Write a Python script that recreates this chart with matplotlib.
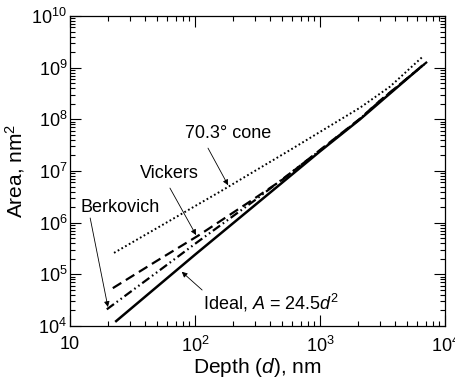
import numpy as np
import matplotlib
matplotlib.use('Agg')
import matplotlib.pyplot as plt

plt.rcParams['font.family'] = ['Liberation Sans', 'DejaVu Sans']
plt.rcParams['mathtext.fontset'] = 'custom'
plt.rcParams['mathtext.rm'] = 'Liberation Sans'
plt.rcParams['mathtext.it'] = 'Liberation Sans:italic'

# valores (profundidad en nm, area en nm^2)
d_ideal = [23, 100, 1000, 2089, 6600]
A_ideal = [1.2e4, 2.4e5, 2.4e7, 1.0e8, 1.1e9]

d_berk = [19.7, 50, 103, 300, 1000, 2089, 3000, 7200]
A_berk = [2.1e4, 1.11e5, 4.1e5, 2.7e6, 2.5e7, 1.02e8, 2.25e8, 1.3e9]

d_vick = [22, 50, 106, 284, 500, 1000, 2089, 3000, 6800]
A_vick = [5.4e4, 1.85e5, 5.6e5, 2.7e6, 6.8e6, 2.55e7, 1.03e8, 2.28e8, 1.15e9]

d_cone = [22.5, 158, 575, 2089, 3631, 6510]
A_cone = [2.6e5, 3.96e6, 2.54e7, 1.68e8, 4.3e8, 1.57e9]

x_ticks = [10, 100, 1000, 10000]
x_labels = ['10', '$10^2$', '$10^3$', '$10^4$']
y_ticks = [1e4, 1e5, 1e6, 1e7, 1e8, 1e9, 1e10]
y_labels = ['$10^4$', '$10^5$', '$10^6$', '$10^7$', '$10^8$', '$10^9$', '$10^{10}$']

fig = plt.figure(figsize=(4.56, 3.78), dpi=100)
ax = fig.add_axes([0.1535, 0.1376, 0.8225, 0.8201])

ax.plot(d_ideal, A_ideal, color='black', lw=1.8, solid_capstyle='butt')
ax.plot(d_berk, A_berk, color='black', lw=1.6, dashes=[4, 1.5, 0.7, 1.5, 0.7, 1.5])
ax.plot(d_vick, A_vick, color='black', lw=1.6, dashes=[4.5, 2.4])
ax.plot(d_cone, A_cone, color='black', lw=1.4, dashes=[0.9, 1.3])

ax.set_xscale('log')
ax.set_yscale('log')
ax.set_xlim(10, 1e4)
ax.set_ylim(1e4, 1e10)
ax.set_xticks(x_ticks)
ax.set_xticklabels(x_labels)
ax.set_yticks(y_ticks)
ax.set_yticklabels(y_labels)
ax.xaxis.set_minor_locator(matplotlib.ticker.LogLocator(base=10, subs=np.arange(2, 10)))
ax.yaxis.set_minor_locator(matplotlib.ticker.LogLocator(base=10, subs=np.arange(2, 10)))
ax.xaxis.set_minor_formatter(matplotlib.ticker.NullFormatter())
ax.yaxis.set_minor_formatter(matplotlib.ticker.NullFormatter())
ax.tick_params(which='both', direction='in', top=True, right=True, labelsize=13, width=0.8)
ax.tick_params(which='major', length=8)
ax.tick_params(which='minor', length=3.5)
ax.tick_params(axis='x', which='major', pad=7)
ax.tick_params(axis='y', which='major', pad=2)
for s in ax.spines.values():
    s.set_linewidth(0.9)

ax.set_xlabel('Depth ($d$), nm', fontsize=15, labelpad=0)
ax.set_ylabel('Area, nm$^2$', fontsize=15, labelpad=3)

arr = dict(arrowstyle='-|>', color='black', lw=0.6, mutation_scale=8, shrinkA=0, shrinkB=0)

# etiquetas y flechas
ax.text(184, 5.4e7, '70.3° cone', fontsize=13, ha='center', va='center')
ax.annotate('', xy=(184, 5.3e6), xytext=(127, 2.77e7), arrowprops=arr)

ax.text(62.5, 9.1e6, 'Vickers', fontsize=13, ha='center', va='center')
ax.annotate('', xy=(102, 5.75e5), xytext=(63, 4.67e6), arrowprops=arr)

ax.text(25.1, 2.0e6, 'Berkovich', fontsize=13, ha='center', va='center')
ax.annotate('', xy=(20.1, 2.33e4), xytext=(14.5, 1.23e6), arrowprops=arr)

ax.text(116, 2.8e4, 'Ideal, $A$ = 24.5$d^2$', fontsize=13, ha='left', va='center')
ax.annotate('', xy=(78.3, 1.12e5), xytext=(114, 4.97e4), arrowprops=arr)

fig.savefig('out.png', dpi=100)
